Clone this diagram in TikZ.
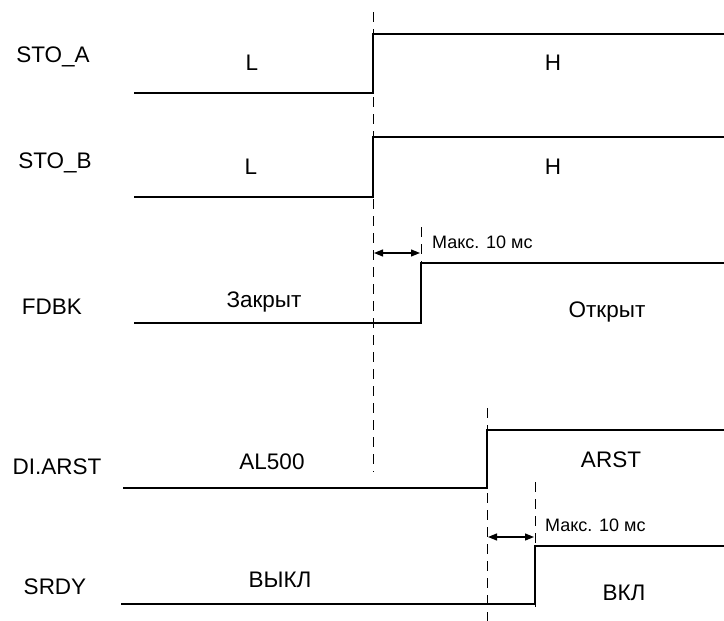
\documentclass[tikz,border=0pt]{standalone}
\usepackage{fontspec}
\setmainfont{Liberation Sans}
\usetikzlibrary{arrows.meta}
\begin{document}
\begin{tikzpicture}[x=1pt,y=-1pt,
  sig/.style={line width=2.6pt,line join=miter},
  guide/.style={line width=0.9pt,dash pattern=on 10pt off 7pt},
  span/.style={line width=1.2pt,{Triangle[length=9pt,width=7pt]}-{Triangle[length=9pt,width=7pt]},shorten <=1pt,shorten >=1pt},
  lbl/.style={font=\fontsize{22.5}{26}\selectfont,inner sep=0pt},
  note/.style={font=\fontsize{18}{21}\selectfont,inner sep=0pt,anchor=west}]
\useasboundingbox (0,0) rectangle (724,621);
% names
\node[lbl] (nA) at (53,57) {STO\_A};
\node[lbl] (nB) at (55,163) {STO\_B};
\node[lbl] (nF) at (52,307) {FDBK};
\node[lbl] (nD) at (57,467) {DI.ARST};
\node[lbl] (nS) at (55,587) {SRDY};
% state labels
\node[lbl] (sA1) at (252,63) {L};
\node[lbl] (sA2) at (553,63) {H};
\node[lbl] (sB1) at (251,167) {L};
\node[lbl] (sB2) at (553,167) {H};
\node[lbl] (sF1) at (264,302) {Закрыт};
\node[lbl] (sF2) at (607,312) {Открыт};
\node[lbl] (sD1) at (272,462) {AL500};
\node[lbl] (sD2) at (611,460) {ARST};
\node[lbl] (sS1) at (280,580) {ВЫКЛ};
\node[lbl] (sS2) at (624,593) {ВКЛ};
% guides
\coordinate (g1t) at (373,12);
\coordinate (g1b) at (373,472);
\coordinate (g2t) at (421,227);
\coordinate (g2b) at (421,324);
\coordinate (g3t) at (487,408);
\coordinate (g3b) at (487,621);
\coordinate (g4t) at (535,482);
\coordinate (g4b) at (535,607);
\draw[guide] (g1t) -- (g1b);
\draw[guide] (g2t) -- (g2b);
\draw[guide] (g3t) -- (g3b);
\draw[guide] (g4t) -- (g4b);
% waveforms
\draw[sig] (134,93) -- (373,93) -- (373,34) -- (724,34);
\draw[sig] (134,197) -- (373,197) -- (373,137) -- (724,137);
\draw[sig] (134,323) -- (421,323) -- (421,263) -- (724,263);
\draw[sig] (123,488) -- (487,488) -- (487,430) -- (724,430);
\draw[sig] (121,604) -- (535,604) -- (535,546) -- (724,546);
% delays
\coordinate (a1l) at (373,253);
\coordinate (a1r) at (421,253);
\coordinate (a2l) at (487,537);
\coordinate (a2r) at (535,537);
\draw[span] (a1l) -- (a1r);
\draw[span] (a2l) -- (a2r);
\node[note] (m1) at (432,242) {Макс. 10 мс};
\node[note] (m2) at (545,525) {Макс. 10 мс};
\end{tikzpicture}
\end{document}
